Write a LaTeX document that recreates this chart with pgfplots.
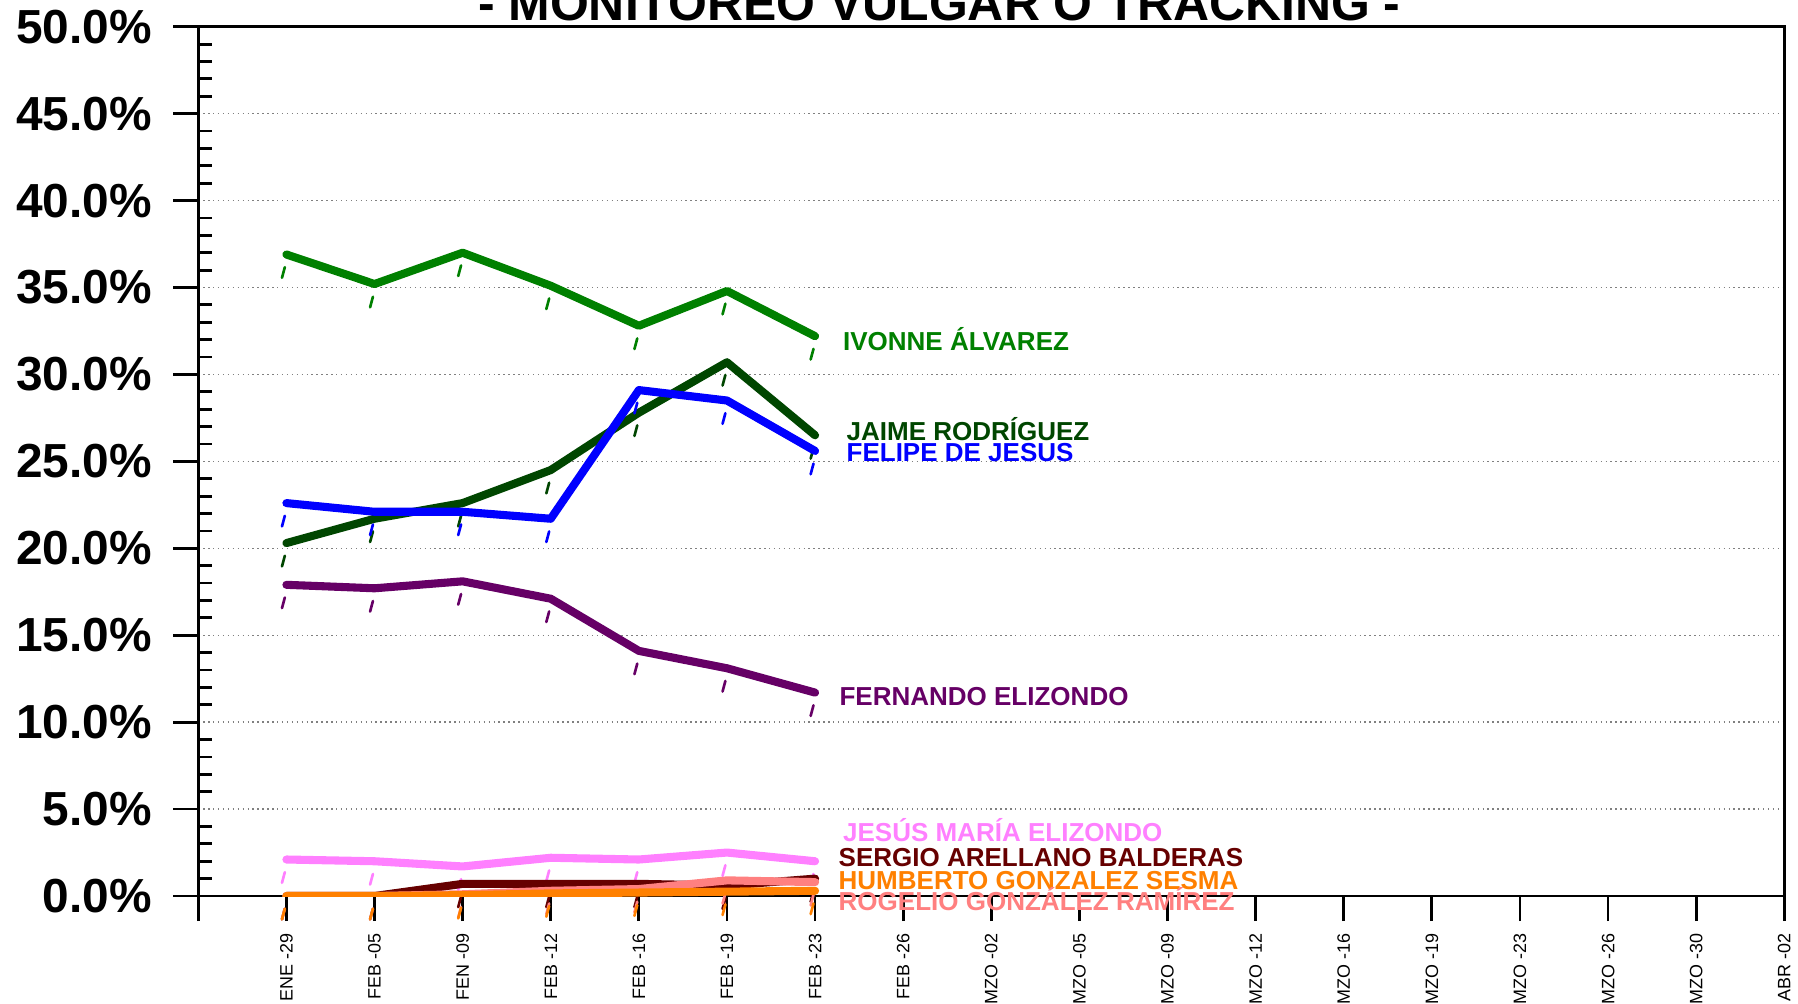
\documentclass[border=0pt]{standalone}
\usepackage{fontspec}
\setmainfont{Liberation Sans}
\usepackage{pgfplots}
\pgfplotsset{compat=1.18}

\definecolor{cIvonne}{RGB}{0,128,0}
\definecolor{cJaime}{RGB}{0,70,0}
\definecolor{cFelipe}{RGB}{0,0,255}
\definecolor{cFernando}{RGB}{102,0,102}
\definecolor{cJesus}{RGB}{255,128,255}
\definecolor{cSergio}{RGB}{102,0,0}
\definecolor{cHumberto}{RGB}{255,128,0}
\definecolor{cRogelio}{RGB}{255,128,128}

\pgfplotsset{
  serie/.style={line width=2.3pt, line join=round, line cap=round,
    mark=|, mark size=0.055cm,
    mark options={solid, line width=0.75pt, xshift=-0.03cm, yshift=-0.18cm, rotate=-15}},
}
\tikzset{lbl/.style={anchor=base west, inner sep=0pt, font=\fontsize{7.4}{8}\selectfont\bfseries}}

\begin{document}
\begin{tikzpicture}
\begin{axis}[
  at={(0,0)}, anchor=south west,
  scale only axis, width=15.86cm, height=8.693cm,
  xmin=-1, xmax=17, ymin=0, ymax=50,
  clip mode=individual,
  xtick={-1,...,17},
  xticklabels={{},ENE -29,FEB -05,FEN -09,FEB -12,FEB -16,FEB -19,FEB -23,FEB -26,MZO -02,MZO -05,MZO -09,MZO -12,MZO -16,MZO -19,MZO -23,MZO -26,MZO -30,ABR -02},
  ytick={0,5,...,50},
  yticklabels={0.0\%,5.0\%,10.0\%,15.0\%,20.0\%,25.0\%,30.0\%,35.0\%,40.0\%,45.0\%,50.0\%},
  extra y ticks={1,2,3,4,6,7,8,9,11,12,13,14,16,17,18,19,21,22,23,24,26,27,28,29,31,32,33,34,36,37,38,39,41,42,43,44,46,47,48,49},
  extra y tick labels={},
  extra y tick style={tick align=inside, major tick length=0.14cm, grid=none},
  tick align=outside, major tick length=0.25cm,
  xtick pos=bottom, ytick pos=left,
  tick style={black, line width=0.8pt},
  axis line style={line width=0.8pt},
  ymajorgrids,
  major grid style={gray, densely dotted, line width=0.4pt},
  yticklabel style={font=\fontsize{13.6}{14}\selectfont\bfseries, xshift=-0.09cm},
  xticklabel style={font=\fontsize{5.1}{6}\selectfont, rotate=90, anchor=east},
]
\addplot[serie, color=cIvonne] coordinates {(0,36.9) (1,35.2) (2,37.0) (3,35.1) (4,32.8) (5,34.8) (6,32.2)};
\addplot[serie, color=cJaime] coordinates {(0,20.3) (1,21.7) (2,22.6) (3,24.5) (4,27.8) (5,30.7) (6,26.5)};
\addplot[serie, color=cFelipe] coordinates {(0,22.6) (1,22.1) (2,22.1) (3,21.7) (4,29.1) (5,28.5) (6,25.6)};
\addplot[serie, color=cFernando] coordinates {(0,17.9) (1,17.7) (2,18.1) (3,17.1) (4,14.1) (5,13.1) (6,11.7)};
\addplot[serie, color=cJesus] coordinates {(0,2.1) (1,2.0) (2,1.7) (3,2.2) (4,2.1) (5,2.5) (6,2.0)};
\addplot[serie, color=cSergio] coordinates {(0,0) (1,0) (2,0.7) (3,0.7) (4,0.7) (5,0.6) (6,1.0)};
\addplot[serie, color=cRogelio] coordinates {(0,0) (1,0) (2,0.1) (3,0.3) (4,0.4) (5,0.9) (6,0.8)};
\addplot[serie, color=cHumberto] coordinates {(0,0) (1,0) (2,0.05) (3,0.15) (4,0.2) (5,0.25) (6,0.3)};

\node[lbl, cIvonne] at (axis cs:6.31,31.36) {IVONNE ÁLVAREZ};
\node[lbl, cJaime] at (axis cs:6.35,26.22) {JAIME RODRÍGUEZ};
\node[lbl, cFelipe] at (axis cs:6.35,24.97) {FELIPE DE JESUS};
\node[lbl, cFernando] at (axis cs:6.27,10.98) {FERNANDO ELIZONDO};
\node[lbl, cJesus] at (axis cs:6.31,3.11) {JESÚS MARÍA ELIZONDO};
\node[lbl, cSergio] at (axis cs:6.26,1.68) {SERGIO ARELLANO BALDERAS};
\node[lbl, cHumberto] at (axis cs:6.26,0.35) {HUMBERTO GONZALEZ SESMA};
\node[lbl, cRogelio] at (axis cs:6.26,-0.81) {ROGELIO GONZÁLEZ RAMÍREZ};
\end{axis}
\node[anchor=base, font=\fontsize{14.2}{16}\selectfont\bfseries] at (7.41cm,8.76cm) {- MONITOREO VULGAR O TRACKING -};
\pgfresetboundingbox
\path[use as bounding box] (-1.983cm,-1.07cm) rectangle (15.997cm,8.96cm);
\end{tikzpicture}
\end{document}
